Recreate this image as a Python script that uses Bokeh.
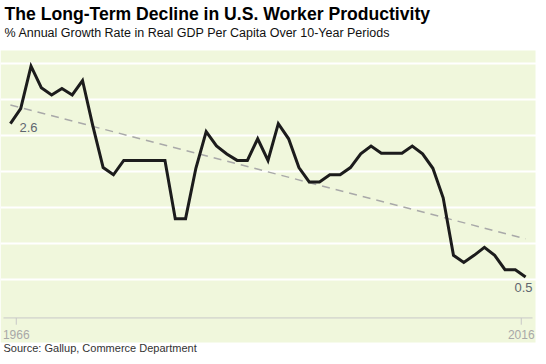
from bokeh.plotting import figure
from bokeh.models import FixedTicker, Range1d, ColumnDataSource, Grid, BoxAnnotation
from bokeh.embed import file_html
from bokeh.resources import INLINE
from bokeh.core.properties import value

# ---- data ----
years = list(range(1966, 2017))
growth = [2.66, 2.87, 3.46, 3.16, 3.06, 3.15, 3.06, 3.26, 2.63, 2.05,
          1.95, 2.15, 2.15, 2.15, 2.15, 2.15, 1.34, 1.34, 2.04, 2.55,
          2.35, 2.24, 2.15, 2.15, 2.45, 2.15, 2.66, 2.45, 2.05, 1.85,
          1.85, 1.95, 1.95, 2.05, 2.24, 2.35, 2.25, 2.25, 2.25, 2.35,
          2.24, 2.04, 1.63, 0.83, 0.73, 0.83, 0.94, 0.83, 0.63, 0.63,
          0.53]
trend_years = [1966, 2016]
trend_vals = [2.92, 1.06]
end_years = [1966, 2016]
end_labels = ["2.6", "0.5"]
tick_labels = ["1966", "2016"]
grid_vals = [0.5, 1.0, 1.5, 2.0, 2.5, 3.0, 3.5]

title_text = "The Long-Term Decline in U.S. Worker Productivity"
subtitle_text = "% Annual Growth Rate in Real GDP Per Capita Over 10-Year Periods"
source_text = "Source: Gallup, Commerce Department"

# ---- layout / style ----
W, H = 538, 356
FONT = "Liberation Sans"
BG = "#f0f7dc"
XPX = 10.304          # pixels per year
X0 = 1965.039         # year at the left edge
YPX = 71.94           # pixels per percentage point
YTOP = 4.3724         # value at the top edge
AXIS_LEVEL = -0.04
TS = 4.5              # text baseline compensation (px)


def dx(px):
    return X0 + px / XPX


def dy(py):
    return YTOP - py / YPX


p = figure(width=W, height=H, output_backend="svg", toolbar_location=None,
           tools="", x_axis_type=None, y_axis_type=None,
           x_range=Range1d(X0, X0 + W / XPX), y_range=Range1d(YTOP - H / YPX, YTOP),
           min_border=0, background_fill_color="white",
           border_fill_color="white", outline_line_color=None)

# green panel
p.add_layout(BoxAnnotation(left=dx(0), right=dx(535), top=dy(50), bottom=dy(342),
                           fill_color=BG, fill_alpha=1, line_alpha=0, level="image"))

# horizontal grid
p.add_layout(Grid(dimension=1, ticker=FixedTicker(ticks=grid_vals),
                  grid_line_color="white", grid_line_width=2))

# x axis (line, ticks, labels)
tick_pos = [end_years[0] + 0.57, end_years[1] - 0.42]
p.segment(x0=[dx(3)], x1=[dx(532)], y0=[AXIS_LEVEL], y1=[AXIS_LEVEL],
          line_color="#c8c8c8", line_width=1)
p.segment(x0=tick_pos, x1=tick_pos, y0=[AXIS_LEVEL] * 2,
          y1=[AXIS_LEVEL - 6.8 / YPX] * 2, line_color="#c8c8c8", line_width=1)
p.text(x=tick_pos, y=[dy(338.4 - TS)] * 2, text=tick_labels, text_align="center",
       text_baseline="alphabetic", text_font=value(FONT), text_font_size="12px",
       text_color="#a8a8a8")

# trend line
p.line(trend_years, trend_vals, line_color="#a9a9a9", line_width=1.5,
       line_dash="8 6")

# main series
p.line(years, growth, line_color="#1c1c1c", line_width=3, line_join="miter")

# end labels
src = ColumnDataSource(dict(
    x=end_years,
    y=[growth[0], growth[-1]],
    text=end_labels,
    xo=[9, 7],
    yo=[8.3 - TS, 15.3 - TS],
    align=["left", "right"],
))
p.text(x="x", y="y", text="text", x_offset="xo", y_offset="yo",
       text_align="align", text_baseline="alphabetic", source=src,
       text_font=value(FONT), text_font_size="13px", text_color="#5f6670")

# titles and source
p.text(x=[dx(4)], y=[dy(18.4 - TS)], text=[title_text], text_align="left",
       text_baseline="alphabetic", text_font=value(FONT), text_font_size="17.6px",
       text_font_style="bold", text_color="#000000")
p.text(x=[dx(4)], y=[dy(36.8 - TS)], text=[subtitle_text], text_align="left",
       text_baseline="alphabetic", text_font=value(FONT), text_font_size="12.5px",
       text_color="#111111")
p.text(x=[dx(3)], y=[dy(352.3 - TS)], text=[source_text], text_align="left",
       text_baseline="alphabetic", text_font=value(FONT), text_font_size="11px",
       text_color="#333333")

open("out.html", "w").write(file_html(p, INLINE))
